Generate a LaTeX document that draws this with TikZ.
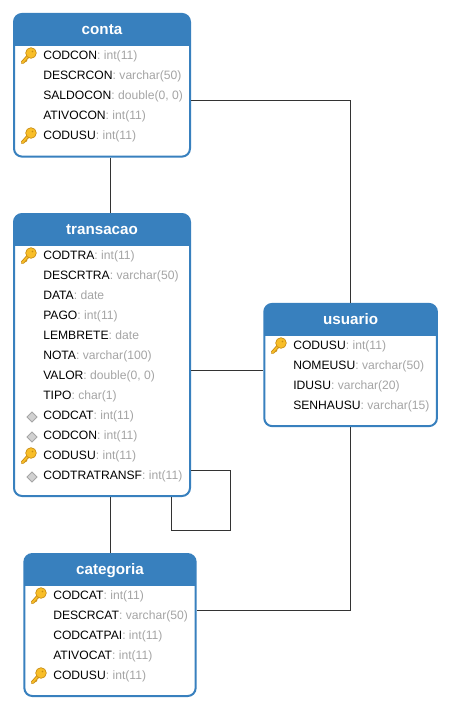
\documentclass[tikz,border=0pt]{standalone}
\usepackage{fontspec}
\setmainfont{Liberation Sans}
\usepackage{tikz}
\usetikzlibrary{positioning,calc}
\definecolor{tableblue}{RGB}{56,128,190}
\definecolor{linkgray}{RGB}{51,51,51}
\definecolor{typegray}{RGB}{165,165,165}
\definecolor{keygold}{RGB}{248,190,40}
\definecolor{keyedge}{RGB}{200,140,20}
\tikzset{
  tablebox/.style={draw=tableblue, line width=1.5pt, rounded corners=6pt, fill=white,
    path picture={\fill[tableblue, sharp corners] (path picture bounding box.north west) rectangle
      ([yshift=-24pt]path picture bounding box.north east);}},
  tabletitle/.style={anchor=base, text=white, font=\fontsize{11.4}{13}\selectfont\bfseries, inner sep=0pt},
  fieldrow/.style={anchor=base west, inner sep=0pt, font=\fontsize{9.1}{11}\selectfont},
  link/.style={draw=linkgray, line width=0.75pt},
  pics/nokey/.style={code={}},
  pics/pkey/.style={code={
    \draw[keyedge, line width=2.6pt, line cap=round] (1,-1) -- (-6.5,7.5);
    \draw[keyedge, line width=1.6pt] (-4,4.5) -- (-2.5,6.5);
    \draw[keygold, line width=1.3pt, line cap=round] (1,-1) -- (-6.5,7.5);
    \draw[keyedge, fill=keygold, line width=0.5pt] (2,-2) circle (4pt);
    \fill[keyedge] (3.5,-3.5) circle (0.7pt);
  }},
  pics/fkey/.style={code={
    \draw[fill=black!18, draw=black!35, line width=0.6pt] (3,-3) -- (8,2) -- (3,7) -- (-2,2) -- cycle;
  }},
}
% one column of fields: x of the text, y of the first row, prefix, list
\newcommand{\fieldrows}[4]{
  \foreach \fname/\ftype/\ficon [count=\i from 0] in {#4} {
    \node[fieldrow] (#3-\i) at (#1,{#2+4.3+20*\i}) {\fname\textcolor{typegray}{: \ftype}};
    \pic at ({#1-14},{#2+20*\i}) {\ficon};
  }
}

\begin{document}
\begin{tikzpicture}[x=0.75pt,y=-0.75pt]
  \useasboundingbox (0,0) rectangle (451,711);
  % tables
  \node[tablebox, minimum width=132pt, minimum height=107pt] (conta) at (102,85.25) {};
  \node[tablebox, minimum width=132pt, minimum height=211.5pt] (transacao) at (102,355) {};
  \node[tablebox, minimum width=129.5pt, minimum height=91.7pt] (usuario) at (350.6,365) {};
  \node[tablebox, minimum width=128.5pt, minimum height=106.5pt] (categoria) at (110,625) {};
  \node[tabletitle] (contatitle) at (102,34) {conta};
  \node[tabletitle] (transacaotitle) at (102,234) {transacao};
  \node[tabletitle] (usuariotitle) at (350.6,324) {usuario};
  \node[tabletitle] (categoriatitle) at (110,574) {categoria};
  % fields
  \fieldrows{43}{55}{contaf}{CODCON/int(11)/pkey, DESCRCON/varchar(50)/nokey,
    SALDOCON/{double(0, 0)}/nokey, ATIVOCON/int(11)/nokey, CODUSU/int(11)/pkey}
  \fieldrows{43}{255}{transacaof}{CODTRA/int(11)/pkey, DESCRTRA/varchar(50)/nokey,
    DATA/date/nokey, PAGO/int(11)/nokey, LEMBRETE/date/nokey, NOTA/varchar(100)/nokey,
    VALOR/{double(0, 0)}/nokey, TIPO/char(1)/nokey, CODCAT/int(11)/fkey,
    CODCON/int(11)/fkey, CODUSU/int(11)/pkey, CODTRATRANSF/int(11)/fkey}
  \fieldrows{293}{345}{usuariof}{CODUSU/int(11)/pkey, NOMEUSU/varchar(50)/nokey,
    IDUSU/varchar(20)/nokey, SENHAUSU/varchar(15)/nokey}
  \fieldrows{53}{595}{categoriaf}{CODCAT/int(11)/pkey, DESCRCAT/varchar(50)/nokey,
    CODCATPAI/int(11)/nokey, ATIVOCAT/int(11)/nokey, CODUSU/int(11)/pkey}
  % relations
  \coordinate (transacaolink) at ([yshift=-11.25pt]transacao.east);
  \draw[link] (conta.south -| categoria.north) -- (transacao.north -| categoria.north);
  \draw[link] (transacao.south -| categoria.north) -- (categoria.north);
  \draw[link] ([yshift=-11.5pt]conta.east) -| (usuario.north);
  \draw[link] (transacaolink) -- (transacaolink -| usuario.west);
  \draw[link] (usuario.south) |- ([yshift=11.25pt]categoria.east);
  % self reference
  \coordinate (selfout) at ([yshift=-86.5pt]transacao.east);
  \coordinate (selfin) at ([xshift=-15pt]transacao.south east);
  \draw[link] (selfout) -- ++(39,0) |- ([yshift=-24.75pt]selfin) -- (selfin);
\end{tikzpicture}
\end{document}
